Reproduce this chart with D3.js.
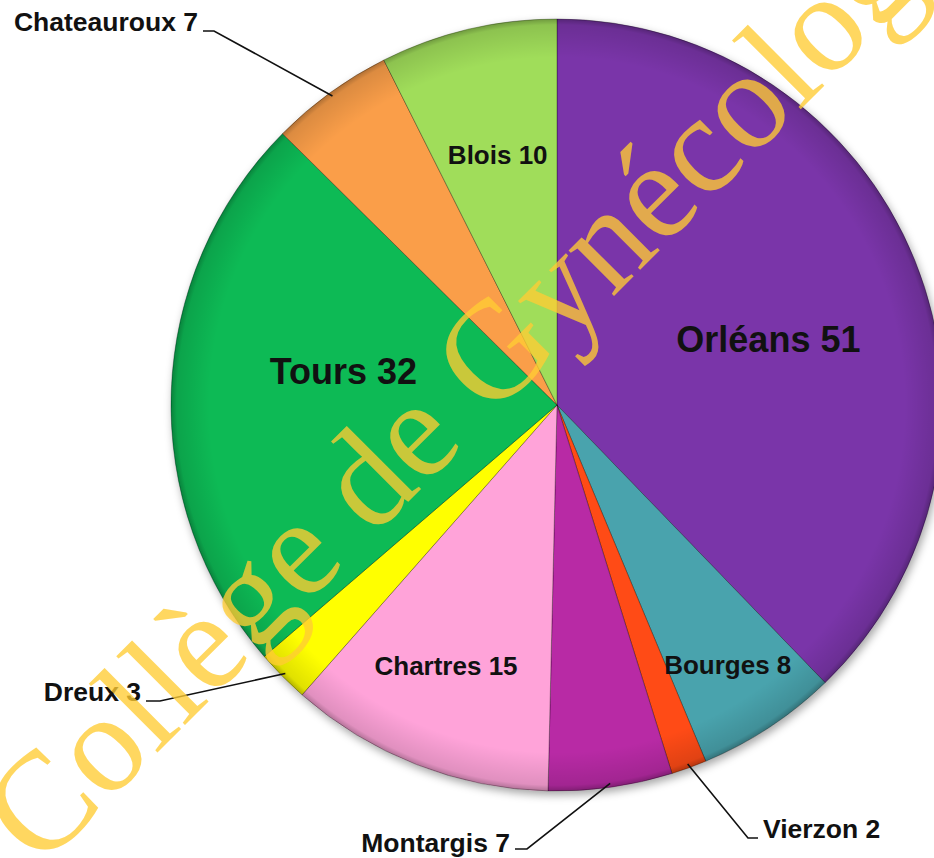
<!DOCTYPE html>
<html>
<head>
<meta charset="utf-8">
<script src="https://cdn.jsdelivr.net/npm/d3@7"></script>
<style>
  html, body { margin: 0; padding: 0; background: #fff; }
  svg { display: block; }
  .lbl { font-family: "Liberation Sans", Arial, sans-serif; font-weight: bold; fill: #111; }
</style>
</head>
<body>
<svg id="chart" width="934" height="858"></svg>
<script>
// Data, clockwise from 12 o'clock
const cities = ["Orléans", "Bourges", "Vierzon", "Montargis", "Chartres", "Dreux", "Tours", "Chateauroux", "Blois"]
const counts = [51, 8, 2, 7, 15, 3, 32, 7, 10]
const sliceColors = ["#7a35a9", "#4aa3ad", "#ff4b12", "#b82aa5", "#ffa3d9", "#ffff00", "#07ba55", "#fa9e48", "#a0dd5a"]
const watermark = "Collège de Gynécologie"

const W = 934
const H = 858
const CX = 557
const CY = 405
const R = 386

// Label placement: inside labels sit at a fraction of the radius (with a small
// angular nudge), outside labels get a leader line with an elbow
const inside = {
  "Orléans": { r: 0.573, da: 4.9, size: 36 },
  "Tours": { r: 0.56, da: 6.8, size: 36 },
  "Blois": { r: 0.666, da: 0, size: 26 },
  "Chartres": { r: 0.735, da: 1.7, size: 26 },
  "Bourges": { r: 0.805, da: 0, size: 26 },
}
const outside = {
  "Chateauroux": { tx: 198, ty: 31, anchor: "end", elbow: [214, 31] },
  "Dreux": { tx: 141, ty: 701, anchor: "end", elbow: [160, 701] },
  "Montargis": { tx: 510, ty: 852, anchor: "end", elbow: [527, 849] },
  "Vierzon": { tx: 763, ty: 838, anchor: "start", elbow: [748, 838] },
}

const rows = cities.map((c, i) => ({ city: c, value: counts[i], color: sliceColors[i] }))

const svg = d3.select("#chart")
const defs = svg.append("defs")

const shadow = defs.append("filter").attr("id", "shadow")
  .attr("x", "-10%").attr("y", "-10%").attr("width", "120%").attr("height", "120%")
shadow.append("feDropShadow")
  .attr("dx", 2).attr("dy", 4).attr("stdDeviation", 4)
  .attr("flood-color", "#000").attr("flood-opacity", 0.35)

// soft bevel: radial gradient darkening towards the rim
const rim = defs.append("radialGradient").attr("id", "rim")
  .attr("gradientUnits", "userSpaceOnUse")
  .attr("cx", CX).attr("cy", CY).attr("r", R)
rim.append("stop").attr("offset", "0.9").attr("stop-color", "#000").attr("stop-opacity", 0)
rim.append("stop").attr("offset", "0.985").attr("stop-color", "#000").attr("stop-opacity", 0.12)
rim.append("stop").attr("offset", "1").attr("stop-color", "#000").attr("stop-opacity", 0.3)

const pie = d3.pie().value(d => d.value).sort(null)
const arcs = pie(rows)
const arc = d3.arc().innerRadius(0).outerRadius(R)

const g = svg.append("g").attr("transform", `translate(${CX},${CY})`)

g.append("g").attr("filter", "url(#shadow)")
  .selectAll("path")
  .data(arcs)
  .join("path")
  .attr("d", arc)
  .attr("fill", d => d.data.color)
  .attr("stroke", "rgba(0,0,0,0.3)")
  .attr("stroke-width", 1)
  .attr("stroke-linejoin", "round")

g.append("circle").attr("r", R).attr("fill", "url(#rim)")
  .attr("transform", `translate(${-CX},${-CY})`).attr("cx", CX).attr("cy", CY)

const toXY = (deg, r) => {
  const a = deg * Math.PI / 180
  return [r * Math.sin(a), -r * Math.cos(a)]
}
const midDeg = d => ((d.startAngle + d.endAngle) / 2) * 180 / Math.PI

// inside labels
arcs.filter(d => inside[d.data.city]).forEach(d => {
  const cfg = inside[d.data.city]
  const [x, y] = toXY(midDeg(d) + cfg.da, R * cfg.r)
  g.append("text").attr("class", "lbl")
    .attr("x", x).attr("y", y)
    .attr("text-anchor", "middle")
    .attr("dominant-baseline", "central")
    .style("font-size", cfg.size + "px")
    .text(`${d.data.city} ${d.data.value}`)
})

// outside labels with leader lines
const lines = svg.append("g")
arcs.filter(d => outside[d.data.city]).forEach(d => {
  const cfg = outside[d.data.city]
  const [px, py] = toXY(midDeg(d), R - 4)
  const start = cfg.anchor === "end" ? cfg.tx + 5 : cfg.tx - 5
  lines.append("path")
    .attr("d", d3.line()([[start, cfg.elbow[1]], cfg.elbow, [CX + px, CY + py]]))
    .attr("fill", "none").attr("stroke", "#111").attr("stroke-width", 1.6)
  lines.append("text").attr("class", "lbl")
    .attr("x", cfg.tx).attr("y", cfg.ty)
    .attr("text-anchor", cfg.anchor)
    .style("font-size", "26.5px")
    .text(`${d.data.city} ${d.data.value}`)
})

// watermark
svg.append("text")
  .attr("transform", "translate(40,870) rotate(-45)")
  .style("font-family", "'Liberation Serif', 'Times New Roman', serif")
  .style("font-size", "140px")
  .attr("fill", "#ffcc33")
  .attr("fill-opacity", 0.78)
  .text(watermark)
</script>
</body>
</html>
